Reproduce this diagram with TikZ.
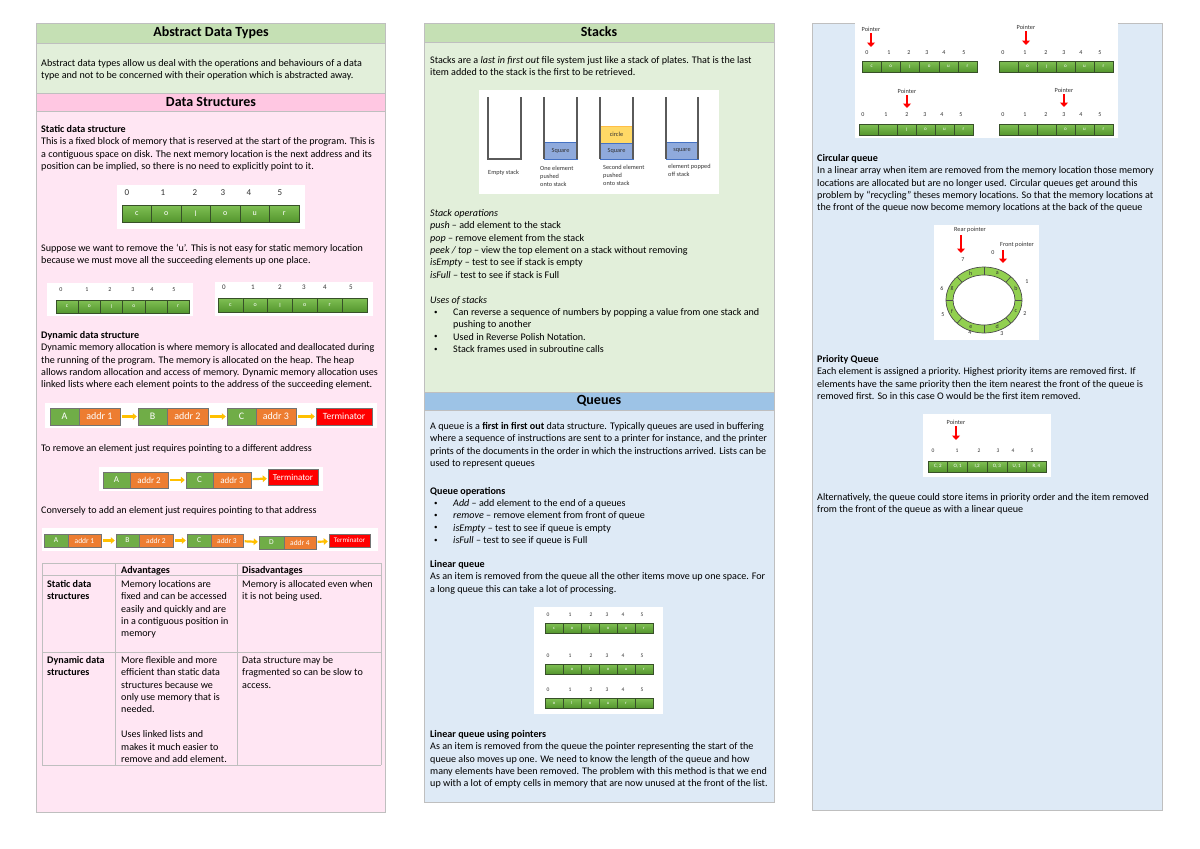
\documentclass[tikz,border=0pt]{standalone}
\usepackage{fontspec}
\setmainfont{Carlito}
\usepackage{tikz}
\usetikzlibrary{arrows.meta}

\definecolor{hdrgreen}{RGB}{197,224,180}
\definecolor{bodygreen}{RGB}{226,239,218}
\definecolor{hdrpink}{RGB}{255,199,226}
\definecolor{bodypink}{RGB}{255,230,243}
\definecolor{hdrblue}{RGB}{157,195,230}
\definecolor{bodyblue}{RGB}{222,234,246}
\definecolor{frame}{RGB}{191,191,191}
\definecolor{celltop}{RGB}{128,192,84}
\definecolor{cellbot}{RGB}{84,150,46}
\definecolor{celledge}{RGB}{55,80,40}
\definecolor{nodegreen}{RGB}{112,173,71}
\definecolor{nodeorange}{RGB}{237,125,49}
\definecolor{nodered}{RGB}{255,0,0}
\definecolor{arrowyellow}{RGB}{255,192,0}
\definecolor{stackblue}{RGB}{143,170,220}
\definecolor{stackedge}{RGB}{68,114,196}
\definecolor{circleyellow}{RGB}{255,217,102}
\definecolor{ringgreen}{RGB}{146,208,80}
\definecolor{wall}{RGB}{90,90,90}

\tikzset{
  body/.style={anchor=north west, inner sep=0pt, align=left, font=\fontsize{10.1}{12.4}\selectfont},
  title/.style={inner sep=0pt, font=\fontsize{14}{16}\selectfont\bfseries},
  cell/.style={draw=celledge, line width=0.6pt, top color=celltop, bottom color=cellbot, text=white, inner sep=0pt},
  idx/.style={inner sep=0pt, text=black!80},
  llnode/.style={draw=black!55, fill=nodegreen, text=white, inner sep=0pt},
  lladdr/.style={draw=black!55, fill=nodeorange, text=white, inner sep=0pt},
  llterm/.style={draw=black!55, fill=nodered, text=white, inner sep=0pt},
  llarrow/.style={arrowyellow, line width=2.2pt, -{Triangle[length=4pt,width=6.5pt]}, shorten <=1.5pt, shorten >=1pt},
  ptrarrow/.style={red, line width=2.8pt, -{Triangle[length=4.5pt,width=8pt]}, shorten <=2pt},
  stackbox/.style={draw=stackedge, fill=stackblue, inner sep=0pt, font=\fontsize{6.3}{7}\selectfont, text=black!80},
  stackwall/.style={wall, line width=1.6pt},
  note/.style={anchor=north west, inner sep=0pt, align=left, font=\fontsize{6.3}{7.8}\selectfont, text=black!80},
  tiny/.style={inner sep=0pt, font=\fontsize{6.3}{7}\selectfont, text=black!80},
  bullet/.style={anchor=west, inner sep=0pt, font=\fontsize{7}{7}\selectfont},
  tblline/.style={draw=frame, line width=0.8pt}
}

\begin{document}
\begin{tikzpicture}[x=1pt,y=1pt,yscale=-1]
\useasboundingbox (0,0) rectangle (1200,849);
\fill[white] (0,0) rectangle (1200,849);

%Shape: Panel [left column]
\draw[frame, fill=bodypink] (36,111) rectangle (385,812);
\draw[frame, fill=hdrpink] (36,93) rectangle (385,111);
\draw[frame, fill=bodygreen] (36,43) rectangle (385,93);
\draw[frame, fill=hdrgreen] (36,23) rectangle (385,43);
%Shape: Panel [middle column]
\draw[frame, fill=bodyblue] (424,410) rectangle (774,802);
\draw[frame, fill=hdrblue] (424,392) rectangle (774,410);
\draw[frame, fill=bodygreen] (424,42) rectangle (774,392);
\draw[frame, fill=hdrgreen] (424,23) rectangle (774,42);
%Shape: Panel [right column]
\draw[frame, fill=bodyblue] (812,23) rectangle (1162,810);

% Text Node
\node[title] (adt-title) at (211,33) {Abstract Data Types};
\node[title] (ds-title) at (211,102) {Data Structures};
\node[title] (stk-title) at (599,32) {Stacks};
\node[title] (que-title) at (599,401) {Queues};

%%%%%%%%%%%%%%%% left column
% Text Node
\node[body] (adt-text) at (41,59) {Abstract data types allow us deal with the operations and behaviours of a data\\type and not to be concerned with their operation which is abstracted away.};
% Text Node
\node[body] (static-text) at (41,125) {\textbf{Static data structure}\\This is a fixed block of memory that is reserved at the start of the program. This is\\a contiguous space on disk.  The next memory location is the next address and its\\position can be implied, so there is no need to explicitly point to it.};

%Shape: Array [static, full]
\fill[white] (117,185) rectangle (305,229);
\foreach \c [count=\i from 0] in {c,o,l,o,u,r}
  \node[cell, minimum width=29.5pt, minimum height=17pt, font=\fontsize{8}{8}\selectfont] (st-\i) at ({136.75+29.5*\i},213.5) {\c};
\foreach \x [count=\i from 0] in {127,163,195,223,249,280}
  \node[idx, font=\fontsize{9}{9}\selectfont] (st-n\i) at (\x,193) {\i};

% Text Node
\node[body] (remove-text) at (41,244) {Suppose we want to remove the ‘u’.  This is not easy for static memory location\\because we must move all the succeeding elements up one place.};

%Shape: Array [static, gap]
\fill[white] (47,283) rectangle (193,316);
\foreach \c [count=\i from 0] in {c,o,l,o,{},r}
  \node[cell, minimum width=22.2pt, minimum height=13pt, font=\fontsize{5.5}{5.5}\selectfont] (sg-\i) at ({67.1+22.2*\i},306.5) {\c};
\foreach \x [count=\i from 0] in {61,87,110,133,152,174}
  \node[idx, font=\fontsize{6}{6}\selectfont] (sg-n\i) at (\x,290) {\i};
%Shape: Array [static, moved]
\fill[white] (215,282) rectangle (373,316);
\foreach \c [count=\i from 0] in {c,o,l,o,r,{}}
  \node[cell, minimum width=24.8pt, minimum height=14pt, font=\fontsize{6}{6}\selectfont] (sm-\i) at ({230.4+24.8*\i},305) {\c};
\foreach \x [count=\i from 0] in {224,253,280,304,325,351}
  \node[idx, font=\fontsize{7}{7}\selectfont] (sm-n\i) at (\x,287) {\i};

% Text Node
\node[body] (dynamic-text) at (41,331) {\textbf{Dynamic data structure}\\Dynamic memory allocation is where memory is allocated and deallocated during\\the running of the program.  The memory is allocated on the heap. The heap\\allows random allocation and access of memory. Dynamic memory allocation uses\\linked lists where each element points to the address of the succeeding element.};

%Shape: Linked list [three elements]
\fill[white] (45,403) rectangle (377,428);
\begin{scope}[every node/.append style={minimum height=17pt, font=\fontsize{10}{10}\selectfont}]
\node[llnode, minimum width=29pt] (l1-a) at (64.5,416.5) {A};
\node[lladdr, minimum width=41pt] (l1-a-ad) at (99.5,416.5) {addr 1};
\node[llnode, minimum width=29pt] (l1-b) at (152.5,416.5) {B};
\node[lladdr, minimum width=41pt] (l1-b-ad) at (187.5,416.5) {addr 2};
\node[llnode, minimum width=29pt] (l1-c) at (241.5,416.5) {C};
\node[lladdr, minimum width=40pt] (l1-c-ad) at (276,416.5) {addr 3};
\node[llterm, minimum width=56pt, font=\fontsize{9.5}{9.5}\selectfont] (l1-t) at (344,416.5) {Terminator};
\end{scope}
\draw[llarrow] (l1-a-ad) -- (l1-b);
\draw[llarrow] (l1-b-ad) -- (l1-c);
\draw[llarrow] (l1-c-ad) -- (l1-t);

% Text Node
\node[body] (del-text) at (41,444) {To remove an element just requires pointing to a different address};

%Shape: Linked list [element removed]
\fill[white] (99,467) rectangle (323,491);
\begin{scope}[every node/.append style={minimum height=16pt, font=\fontsize{9}{9}\selectfont}]
\node[llnode, minimum width=27pt] (l2-a) at (116.5,480) {A};
\node[lladdr, minimum width=38pt] (l2-a-ad) at (149,480) {addr 2};
\node[llnode, minimum width=27pt] (l2-c) at (199.5,480) {C};
\node[lladdr, minimum width=38pt] (l2-c-ad) at (232,480) {addr 3};
\node[llterm, minimum width=50pt] (l2-t) at (293,477.5) {Terminator};
\end{scope}
\draw[llarrow] (l2-a-ad) -- (l2-c);
\draw[llarrow] (l2-c-ad) -- (l2-t);

% Text Node
\node[body] (add-text) at (41,506) {Conversely to add an element just requires pointing to that address};

%Shape: Linked list [element added]
\fill[white] (42,528) rectangle (378,551);
\begin{scope}[every node/.append style={minimum height=13pt, font=\fontsize{7.5}{7.5}\selectfont}]
\node[llnode, minimum width=24pt] (l3-a) at (56,540.5) {A};
\node[lladdr, minimum width=33pt] (l3-a-ad) at (84.5,540.5) {addr 1};
\node[llnode, minimum width=23pt] (l3-b) at (127.5,540.5) {B};
\node[lladdr, minimum width=34pt] (l3-b-ad) at (156,540.5) {addr 2};
\node[llnode, minimum width=24pt] (l3-c) at (199,540.5) {C};
\node[lladdr, minimum width=32pt] (l3-c-ad) at (227,540.5) {addr 3};
\node[llnode, minimum width=25pt] (l3-d) at (271.5,542.5) {D};
\node[lladdr, minimum width=32pt] (l3-d-ad) at (300,542.5) {addr 4};
\node[llterm, minimum width=41pt, font=\fontsize{7}{7}\selectfont] (l3-t) at (349.5,540.5) {Terminator};
\end{scope}
\draw[llarrow] (l3-a-ad) -- (l3-b);
\draw[llarrow] (l3-b-ad) -- (l3-c);
\draw[llarrow] (l3-c-ad) -- (l3-d);
\draw[llarrow] (l3-d-ad) -- (l3-t);

%Shape: Table [advantages]
\draw[tblline] (42,563) -- (381,563) (42,575) -- (381,575) (42,652) -- (381,652) (42,765) -- (381,765);
\draw[tblline] (42,563) -- (42,765) (115,563) -- (115,765) (237,563) -- (237,765) (381,563) -- (381,765);
% Text Node
\node[body] (tb-adv) at (121,566) {\textbf{Advantages}};
\node[body] (tb-dis) at (242,566) {\textbf{Disadvantages}};
\node[body] (tb-st) at (47,580) {\textbf{Static data}\\\textbf{structures}};
\node[body] (tb-st-adv) at (121,580) {Memory locations are\\fixed and can be accessed\\easily and quickly and are\\in a contiguous position in\\memory};
\node[body] (tb-st-dis) at (242,580) {Memory is allocated even when\\it is not being used.};
\node[body] (tb-dy) at (47,656) {\textbf{Dynamic data}\\\textbf{structures}};
\node[body] (tb-dy-adv) at (121,656) {More flexible and more\\efficient than static data\\structures because we\\only use memory that is\\needed.\\[12.4pt]Uses linked lists and\\makes it much easier to\\remove and add element.};
\node[body] (tb-dy-dis) at (242,656) {Data structure may be\\fragmented so can be slow to\\access.};

%%%%%%%%%%%%%%%% middle column
% Text Node
\node[body] (stk-text) at (430,56) {Stacks are a \textit{last in first out} file system just like a stack of plates.  That is the last\\item added to the stack is the first to be retrieved.};

%Shape: Stacks picture
\fill[white] (479,90) rectangle (719,194);
\node[stackbox, minimum width=33pt, minimum height=17pt] (sq-one) at (560.5,150.5) {Square};
\node[stackbox, fill=circleyellow, draw=circleyellow!70!orange, minimum width=33pt, minimum height=17pt] (circ-two) at (616.5,134.5) {circle};
\node[stackbox, minimum width=33pt, minimum height=16pt] (sq-two) at (616.5,151) {Square};
\node[stackbox, minimum width=32pt, minimum height=17pt] (sq-pop) at (682,150.5) {square};
\draw[stackwall] (488,97) -- (488,159) -- (521,159) -- (521,97);
\draw[stackwall] (544,97) -- (544,159) (577,97) -- (577,159);
\draw[stackwall] (600,97) -- (600,159) (633,97) -- (633,159);
\draw[stackwall] (666,97) -- (666,159) (698,97) -- (698,159);
% Text Node
\node[note] (lb-empty) at (488,170) {Empty stack};
\node[note] (lb-one) at (540,166) {One element\\pushed\\onto stack};
\node[note] (lb-two) at (603,165) {Second element\\pushed\\onto stack};
\node[note] (lb-pop) at (668,164) {element popped\\off stack};

% Text Node
\node[body] (stk-ops) at (430,209) {\textit{Stack operations}\\\textit{push} – add element to the stack\\\textit{pop} – remove element from the stack\\\textit{peek / top} – view the top element on a stack without removing\\\textit{isEmpty} – test to see if stack is empty\\\textit{isFull} – test to see if stack is Full};
% Text Node
\node[body] (stk-uses) at (430,296) {\textit{Uses of stacks}};
\node[body] (stk-uses-list) at (453,308) {Can reverse a sequence of numbers by popping a value from one stack and\\pushing to another\\Used in Reverse Polish Notation.\\Stack frames used in subroutine calls};
\node[bullet] (bu-1) at (434,312.5) {•};
\node[bullet] (bu-2) at (434,337.3) {•};
\node[bullet] (bu-3) at (434,349.7) {•};

% Text Node
\node[body] (que-text) at (430,422) {A queue is a \textbf{first in first out} data structure.  Typically queues are used in buffering\\where a sequence of instructions are sent to a printer for instance, and the printer\\prints of the documents in the order in which the instructions arrived. Lists can be\\used to represent queues};
% Text Node
\node[body] (que-ops) at (430,487) {\textbf{Queue operations}};
\node[body] (que-ops-list) at (453,499) {\textit{Add} – add element to the end of a queues\\\textit{remove} – remove element from front of queue\\\textit{isEmpty} – test to see if queue is empty\\\textit{isFull} – test to see if queue is Full};
\node[bullet] (bq-1) at (434,503.5) {•};
\node[bullet] (bq-2) at (434,515.9) {•};
\node[bullet] (bq-3) at (434,528.3) {•};
\node[bullet] (bq-4) at (434,540.7) {•};
% Text Node
\node[body] (lin-text) at (430,560) {\textbf{Linear queue}\\As an item is removed from the queue all the other items move up one space. For\\a long queue this can take a lot of processing.};

%Shape: Array [linear queue]
\fill[white] (534,607) rectangle (663,714);
\foreach \c [count=\i from 0] in {c,o,l,o,u,r}
  \node[cell, minimum width=18pt, minimum height=10pt, font=\fontsize{4.5}{4.5}\selectfont] (lq1-\i) at ({554+18*\i},628) {\c};
\foreach \c [count=\i from 0] in {{},o,l,o,u,r}
  \node[cell, minimum width=18pt, minimum height=10pt, font=\fontsize{4.5}{4.5}\selectfont] (lq2-\i) at ({554+18*\i},669) {\c};
\foreach \c [count=\i from 0] in {o,l,o,u,r,{}}
  \node[cell, minimum width=18pt, minimum height=10pt, font=\fontsize{4.5}{4.5}\selectfont] (lq3-\i) at ({554+18*\i},703) {\c};
\foreach \y/\r in {615/1,656/2,690/3}
  \foreach \x [count=\i from 0] in {548,570,591,607,623,642}
    \node[idx, font=\fontsize{5.5}{5.5}\selectfont] (lq\r-n\i) at (\x,\y) {\i};

% Text Node
\node[body] (ptr-text) at (430,730) {\textbf{Linear queue using pointers}\\As an item is removed from the queue the pointer representing the start of the\\queue also moves up one. We need to know the length of the queue and how\\many elements have been removed.  The problem with this method is that we end\\up with a lot of empty cells in memory that are now unused at the front of the list.};

%%%%%%%%%%%%%%%% right column
%Shape: Array [queue with pointers]
\fill[white] (855,23) rectangle (1118,138);
\foreach \c [count=\i from 0] in {c,o,l,o,u,r}
  \node[cell, minimum width=19.2pt, minimum height=11pt, font=\fontsize{5}{5}\selectfont] (pq1-\i) at ({871.6+19.2*\i},66.5) {\c};
\foreach \c [count=\i from 0] in {{},o,l,o,u,r}
  \node[cell, minimum width=19pt, minimum height=11pt, font=\fontsize{5}{5}\selectfont] (pq2-\i) at ({1008.5+19*\i},66.5) {\c};
\foreach \c [count=\i from 0] in {{},{},l,o,u,r}
  \node[cell, minimum width=19pt, minimum height=11pt, font=\fontsize{5}{5}\selectfont] (pq3-\i) at ({868.5+19*\i},129.5) {\c};
\foreach \c [count=\i from 0] in {{},{},{},o,u,r}
  \node[cell, minimum width=19pt, minimum height=11pt, font=\fontsize{5}{5}\selectfont] (pq4-\i) at ({1008.5+19*\i},129.5) {\c};
\foreach \x [count=\i from 0] in {867,889,909,927,944,964}
  \node[idx, font=\fontsize{6}{6}\selectfont] (pq1-n\i) at (\x,53) {\i};
\foreach \x [count=\i from 0] in {1003,1025,1046,1064,1081,1100}
  \node[idx, font=\fontsize{6}{6}\selectfont] (pq2-n\i) at (\x,53) {\i};
\foreach \x [count=\i from 0] in {863,886,907,925,942,961}
  \node[idx, font=\fontsize{6}{6}\selectfont] (pq3-n\i) at (\x,115) {\i};
\foreach \x [count=\i from 0] in {1003,1025,1046,1064,1081,1100}
  \node[idx, font=\fontsize{6}{6}\selectfont] (pq4-n\i) at (\x,115) {\i};
% Text Node
\node[tiny] (ptr-a) at (871,29) {Pointer};
\node[tiny] (ptr-b) at (1026,27) {Pointer};
\node[tiny] (ptr-c) at (907,91) {Pointer};
\node[tiny] (ptr-d) at (1064,90) {Pointer};
\coordinate (ptr-a-tip) at (871,47);
\coordinate (ptr-b-tip) at (1026,45);
\coordinate (ptr-c-tip) at (907,108);
\coordinate (ptr-d-tip) at (1064,107);
\draw[ptrarrow] (ptr-a) -- (ptr-a-tip);
\draw[ptrarrow] (ptr-b) -- (ptr-b-tip);
\draw[ptrarrow] (ptr-c) -- (ptr-c-tip);
\draw[ptrarrow] (ptr-d) -- (ptr-d-tip);

% Text Node
\node[body] (circ-text) at (817,154) {\textbf{Circular queue}\\In a linear array when item are removed from the memory location those memory\\locations are allocated but are no longer used.  Circular queues get around this\\problem by “recycling” theses memory locations. So that the memory locations at\\the front of the queue now become memory locations at the back of the queue};

%Shape: Ring [circular queue]
\fill[white] (934,225) rectangle (1039,340);
\fill[ringgreen, even odd rule] (984,300) ellipse [x radius=38, y radius=33] (984,300) ellipse [x radius=31, y radius=25];
\draw[black!70, line width=0.7pt] (984,300) ellipse [x radius=38, y radius=33] (984,300) ellipse [x radius=31, y radius=25];
\foreach \a in {0,45,...,315}
  \draw[black!70, line width=0.7pt] ({984+31*cos(\a)},{300-25*sin(\a)}) -- ({984+38*cos(\a)},{300-33*sin(\a)});
\foreach \t/\a in {a/67.5,b/22.5,c/-22.5,d/-67.5,e/-112.5,f/-157.5,g/157.5,h/112.5}
  \node[tiny, font=\fontsize{6}{6}\selectfont] (seg-\t) at ({984+34.5*cos(\a)},{300-29*sin(\a)}) {\t};
\foreach \n/\x/\y in {0/993/253,1/1027/282,2/1025/314,3/1002/334,4/970/333,5/943/315,6/942/288,7/963/260}
  \node[tiny, font=\fontsize{6}{6}\selectfont] (ring-n\n) at (\x,\y) {\n};
% Text Node
\node[tiny] (rear) at (970,230) {Rear pointer};
\node[tiny] (front) at (1017,245) {Front pointer};
\coordinate (rear-tip) at (961,253);
\coordinate (front-tip) at (1003,263);
\draw[ptrarrow] (rear.south -| rear-tip) -- (rear-tip);
\draw[ptrarrow] (front.south -| front-tip) -- (front-tip);

% Text Node
\node[body] (prio-text) at (817,355) {\textbf{Priority Queue}\\Each element is assigned a priority.  Highest priority items are removed first.  If\\elements have the same priority then the item nearest the front of the queue is\\removed first. So in this case O would be the first item removed.};

%Shape: Array [priority queue]
\fill[white] (923,414) rectangle (1051,477);
\foreach \c [count=\i from 0] in {{C, 2},{O, 1},{I,2},{O, 3},{U, 1},{R, 4}}
  \node[cell, minimum width=19.7pt, minimum height=11pt, font=\fontsize{5}{5}\selectfont] (pr-\i) at ({937.85+19.7*\i},466.5) {\c};
\foreach \x [count=\i from 0] in {933,957,979,998,1013,1032}
  \node[idx, font=\fontsize{5.5}{5.5}\selectfont] (pr-n\i) at (\x,451) {\i};
\node[tiny] (ptr-p) at (956,422) {Pointer};
\coordinate (ptr-p-tip) at (956,440);
\draw[ptrarrow] (ptr-p) -- (ptr-p-tip);

% Text Node
\node[body] (alt-text) at (817,493) {Alternatively, the queue could store items in priority order and the item removed\\from the front of the queue as with a linear queue};

\end{tikzpicture}
\end{document}
